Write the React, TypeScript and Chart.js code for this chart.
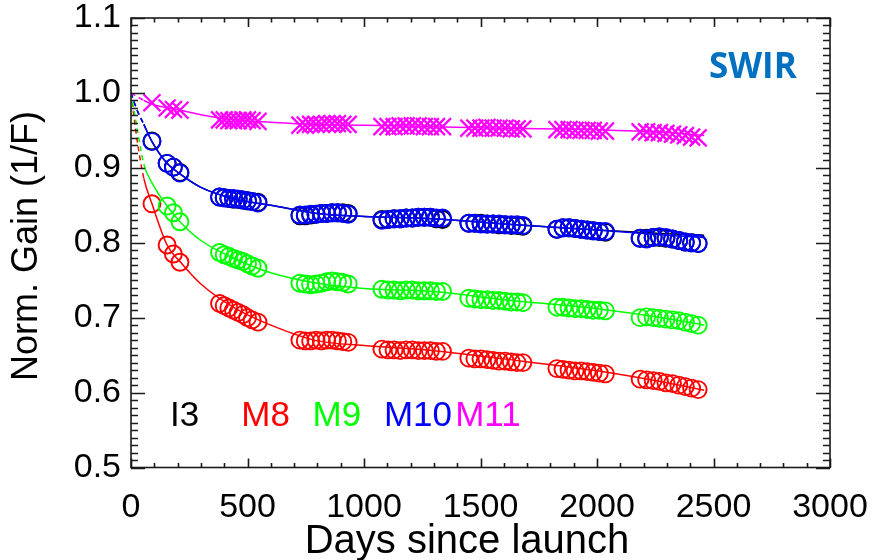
import React, { useEffect, useRef } from 'react';
import { Chart, registerables } from 'chart.js';

Chart.register(...registerables);

// ---- data ----
const days = [
  90, 155, 182, 210,
  380, 400, 420, 440, 460, 480, 500, 520, 545,
  725, 748, 771, 794, 817, 840, 863, 886, 909, 932,
  1077, 1103, 1129, 1155, 1181, 1207, 1233, 1259, 1285, 1311, 1337,
  1450, 1476, 1502, 1528, 1554, 1580, 1606, 1632, 1657, 1682,
  1828, 1854, 1880, 1906, 1932, 1958, 1984, 2010, 2036,
  2185, 2213, 2241, 2268, 2296, 2324, 2351, 2379, 2406, 2434,
];

const gainI3 = [
  0.936, 0.906, 0.901, 0.894,
  0.861, 0.860, 0.859, 0.858, 0.858, 0.857, 0.856, 0.855, 0.854,
  0.836, 0.836, 0.837, 0.838, 0.839, 0.839, 0.840, 0.840, 0.840, 0.839,
  0.831, 0.831, 0.832, 0.832, 0.833, 0.833, 0.834, 0.834, 0.834, 0.832, 0.831,
  0.826, 0.826, 0.826, 0.825, 0.825, 0.824, 0.824, 0.823, 0.823, 0.822,
  0.818, 0.820, 0.820, 0.819, 0.818, 0.817, 0.816, 0.815, 0.814,
  0.806, 0.806, 0.807, 0.807, 0.806, 0.805, 0.803, 0.801, 0.800, 0.799,
];

const gainM8 = [
  0.852, 0.797, 0.785, 0.774,
  0.719, 0.716, 0.713, 0.710, 0.707, 0.704, 0.700, 0.697, 0.694,
  0.670, 0.669, 0.669, 0.670, 0.669, 0.670, 0.670, 0.669, 0.668, 0.667,
  0.658, 0.657, 0.657, 0.656, 0.657, 0.657, 0.656, 0.656, 0.656, 0.655, 0.655,
  0.646, 0.645, 0.645, 0.644, 0.643, 0.642, 0.642, 0.641, 0.640, 0.640,
  0.632, 0.631, 0.630, 0.629, 0.629, 0.628, 0.627, 0.626, 0.625,
  0.618, 0.617, 0.616, 0.615, 0.613, 0.612, 0.610, 0.608, 0.606, 0.604,
];

const gainM9 = [
  null, 0.849, 0.840, 0.828,
  0.787, 0.784, 0.782, 0.779, 0.777, 0.775, 0.772, 0.769, 0.766,
  0.746, 0.745, 0.744, 0.745, 0.746, 0.748, 0.749, 0.748, 0.747, 0.745,
  0.738, 0.737, 0.737, 0.736, 0.737, 0.737, 0.736, 0.736, 0.736, 0.735, 0.735,
  0.726, 0.725, 0.724, 0.724, 0.723, 0.723, 0.722, 0.721, 0.721, 0.720,
  0.714, 0.714, 0.713, 0.712, 0.712, 0.711, 0.710, 0.710, 0.709,
  0.700, 0.701, 0.700, 0.699, 0.698, 0.697, 0.696, 0.694, 0.692, 0.690,
];

const gainM10 = [
  0.935, 0.906, 0.901, 0.893,
  0.861, 0.860, 0.859, 0.859, 0.858, 0.857, 0.856, 0.855, 0.853,
  0.837, 0.837, 0.838, 0.838, 0.839, 0.839, 0.840, 0.840, 0.839, 0.838,
  0.830, 0.831, 0.832, 0.832, 0.833, 0.833, 0.834, 0.834, 0.834, 0.833, 0.833,
  0.826, 0.826, 0.825, 0.825, 0.825, 0.825, 0.824, 0.824, 0.824, 0.823,
  0.818, 0.820, 0.820, 0.819, 0.818, 0.817, 0.816, 0.815, 0.815,
  0.806, 0.805, 0.807, 0.808, 0.807, 0.805, 0.803, 0.801, 0.800, 0.799,
];

const gainM11 = [
  0.987, 0.980, 0.978, 0.977,
  0.964, 0.964, 0.963, 0.963, 0.963, 0.964, 0.964, 0.963, 0.962,
  0.957, 0.957, 0.958, 0.958, 0.958, 0.959, 0.959, 0.959, 0.958, 0.958,
  0.955, 0.955, 0.955, 0.956, 0.956, 0.956, 0.956, 0.955, 0.955, 0.955, 0.955,
  0.953, 0.953, 0.953, 0.954, 0.953, 0.953, 0.953, 0.952, 0.952, 0.952,
  0.951, 0.951, 0.951, 0.950, 0.950, 0.950, 0.950, 0.949, 0.949,
  0.948, 0.948, 0.947, 0.947, 0.946, 0.945, 0.944, 0.943, 0.941, 0.940,
];

// fitted trend curves (first part, before the first measurement, is dashed)
const fitDays = [0, 25, 55, 90, 155, 210, 300, 450, 600, 800, 1000, 1300, 1600, 2000, 2300, 2460];
const fitI3 = [1.0, 0.978, 0.958, 0.935, 0.906, 0.892, 0.874, 0.858, 0.850, 0.839, 0.835, 0.832, 0.825, 0.817, 0.812, 0.810];
const fitM8 = [1.0, 0.94, 0.886, 0.852, 0.797, 0.775, 0.745, 0.712, 0.690, 0.669, 0.663, 0.656, 0.645, 0.629, 0.613, 0.603];
const fitM9 = [1.0, 0.955, 0.905, 0.880, 0.849, 0.828, 0.803, 0.778, 0.760, 0.746, 0.739, 0.735, 0.724, 0.712, 0.699, 0.690];
const fitM10 = [1.0, 0.978, 0.958, 0.935, 0.906, 0.892, 0.874, 0.858, 0.850, 0.839, 0.835, 0.832, 0.825, 0.817, 0.810, 0.807];
const fitM11 = [1.0, 0.995, 0.990, 0.985, 0.980, 0.977, 0.971, 0.964, 0.961, 0.958, 0.957, 0.955, 0.953, 0.951, 0.947, 0.943];
const extrapolateUntil = 55;

const bandNames = ['I3', 'M8', 'M9', 'M10', 'M11'];
const bandColors = ['#000000', '#ff0000', '#00ff00', '#0000ff', '#ff00ff'];
const bandGains = [gainI3, gainM8, gainM9, gainM10, gainM11];
const bandFits = [fitI3, fitM8, fitM9, fitM10, fitM11];
const bandMarkers = ['circle', 'circle', 'circle', 'circle', 'crossRot'];

const xAxisTitle = 'Days since launch';
const yAxisTitle = 'Norm. Gain (1/F)';
const panelLabel = 'SWIR';

const FONT = "'Liberation Sans', Arial, Helvetica, sans-serif";

const framePlugin = {
  id: 'idlFrame',
  afterDatasetsDraw(chart: any) {
    const { ctx, chartArea: a, scales } = chart;
    const x = scales.x;
    const y = scales.y;
    ctx.save();
    ctx.strokeStyle = '#1a1a1a';
    ctx.lineWidth = 1.6;
    ctx.strokeRect(a.left, a.top, a.right - a.left, a.bottom - a.top);
    ctx.beginPath();
    for (let v = 0; v <= 3000; v += 100) {
      const px = Math.round(x.getPixelForValue(v)) + 0.5;
      const len = v % 500 === 0 ? 9 : 4.5;
      ctx.moveTo(px, a.bottom);
      ctx.lineTo(px, a.bottom - len);
      ctx.moveTo(px, a.top);
      ctx.lineTo(px, a.top + len);
    }
    for (let k = 50; k <= 110; k++) {
      const py = Math.round(y.getPixelForValue(k / 100)) + 0.5;
      const len = k % 10 === 0 ? 14 : 7;
      ctx.moveTo(a.left, py);
      ctx.lineTo(a.left + len, py);
      ctx.moveTo(a.right, py);
      ctx.lineTo(a.right - len, py);
    }
    ctx.stroke();

    // band labels
    ctx.font = `35px ${FONT}`;
    ctx.textBaseline = 'middle';
    ctx.textAlign = 'left';
    bandNames.forEach((name, i) => {
      ctx.fillStyle = bandColors[i];
      ctx.fillText(name, a.left + 39 + i * 71.3, a.top + 398);
    });

    // panel label
    ctx.font = `bold 35px 'Open Sans', 'Liberation Sans', sans-serif`;
    ctx.fillStyle = '#0070c0';
    ctx.fillText(panelLabel, a.left + 578, a.top + 50);

    // axis titles
    ctx.fillStyle = '#000';
    ctx.textAlign = 'center';
    ctx.textBaseline = 'middle';
    ctx.font = `40px ${FONT}`;
    ctx.fillText(xAxisTitle, a.left + 336, a.bottom + 74);

    ctx.save();
    ctx.translate(27, a.top + 228);
    ctx.rotate(-Math.PI / 2);
    ctx.font = `36px ${FONT}`;
    ctx.fillText(yAxisTitle, 0, 0);
    ctx.restore();

    ctx.restore();
  },
};

const zeroPad = (s: any) => {
  s.paddingLeft = 0;
  s.paddingRight = 0;
  s.paddingTop = 0;
  s.paddingBottom = 0;
};

export default function App() {
  const canvasRef = useRef<HTMLCanvasElement | null>(null);

  useEffect(() => {
    const canvas = canvasRef.current;
    if (!canvas) return;

    const datasets: any[] = [];
    bandNames.forEach((name, i) => {
      const pts = days
        .map((d, j) => ({ x: d, y: bandGains[i][j] }))
        .filter((p) => p.y !== null);
      const fit = fitDays.map((d, j) => ({ x: d, y: bandFits[i][j] }));
      const layer = bandNames.length - i;
      const isCross = bandMarkers[i] === 'crossRot';
      datasets.push({
        label: name + ' fit',
        data: fit,
        showLine: true,
        pointRadius: 0,
        borderColor: bandColors[i],
        borderWidth: 1.5,
        cubicInterpolationMode: 'monotone',
        segment: {
          borderDash: (c: any) => (c.p1.parsed.x <= extrapolateUntil ? [5, 4] : undefined),
        },
        order: layer * 2,
      });
      datasets.push({
        label: name,
        data: pts,
        showLine: false,
        pointStyle: bandMarkers[i],
        pointRadius: isCross ? 12 : 8.5,
        pointBorderWidth: isCross ? 2.2 : 1.9,
        pointBorderColor: bandColors[i],
        pointBackgroundColor: 'rgba(0,0,0,0)',
        order: layer * 2 - 1,
      });
    });

    const chart = new Chart(canvas, {
      type: 'scatter',
      data: { datasets },
      options: {
        animation: false,
        responsive: false,
        maintainAspectRatio: false,
        layout: { padding: { left: 0, top: 18, right: 43, bottom: 0 } },
        plugins: { legend: { display: false }, tooltip: { enabled: false } },
        scales: {
          x: {
            type: 'linear',
            min: 0,
            max: 3000,
            ticks: {
              stepSize: 500,
              padding: 20,
              color: '#000',
              font: { family: FONT, size: 34 },
              maxRotation: 0,
              autoSkip: false,
              callback: (v: any) => String(v),
            },
            grid: { display: false, drawTicks: false },
            border: { display: false },
            title: { display: false },
            afterFit: (s: any) => {
              s.height = 92.5;
              zeroPad(s);
            },
          },
          y: {
            type: 'linear',
            min: 0.5,
            max: 1.1,
            ticks: {
              stepSize: 0.1,
              padding: 10,
              color: '#000',
              font: { family: FONT, size: 34 },
              callback: (v: any) => Number(v).toFixed(1),
            },
            grid: { display: false, drawTicks: false },
            border: { display: false },
            title: { display: false },
            afterFit: (s: any) => {
              s.width = 131;
              zeroPad(s);
            },
          },
        },
      },
      plugins: [framePlugin],
    });

    return () => chart.destroy();
  }, []);

  return (
    <div style={{ position: 'fixed', left: 0, top: 0, width: 873, height: 560, background: '#fff' }}>
      <canvas ref={canvasRef} width={873} height={560} style={{ display: 'block' }} />
    </div>
  );
}
